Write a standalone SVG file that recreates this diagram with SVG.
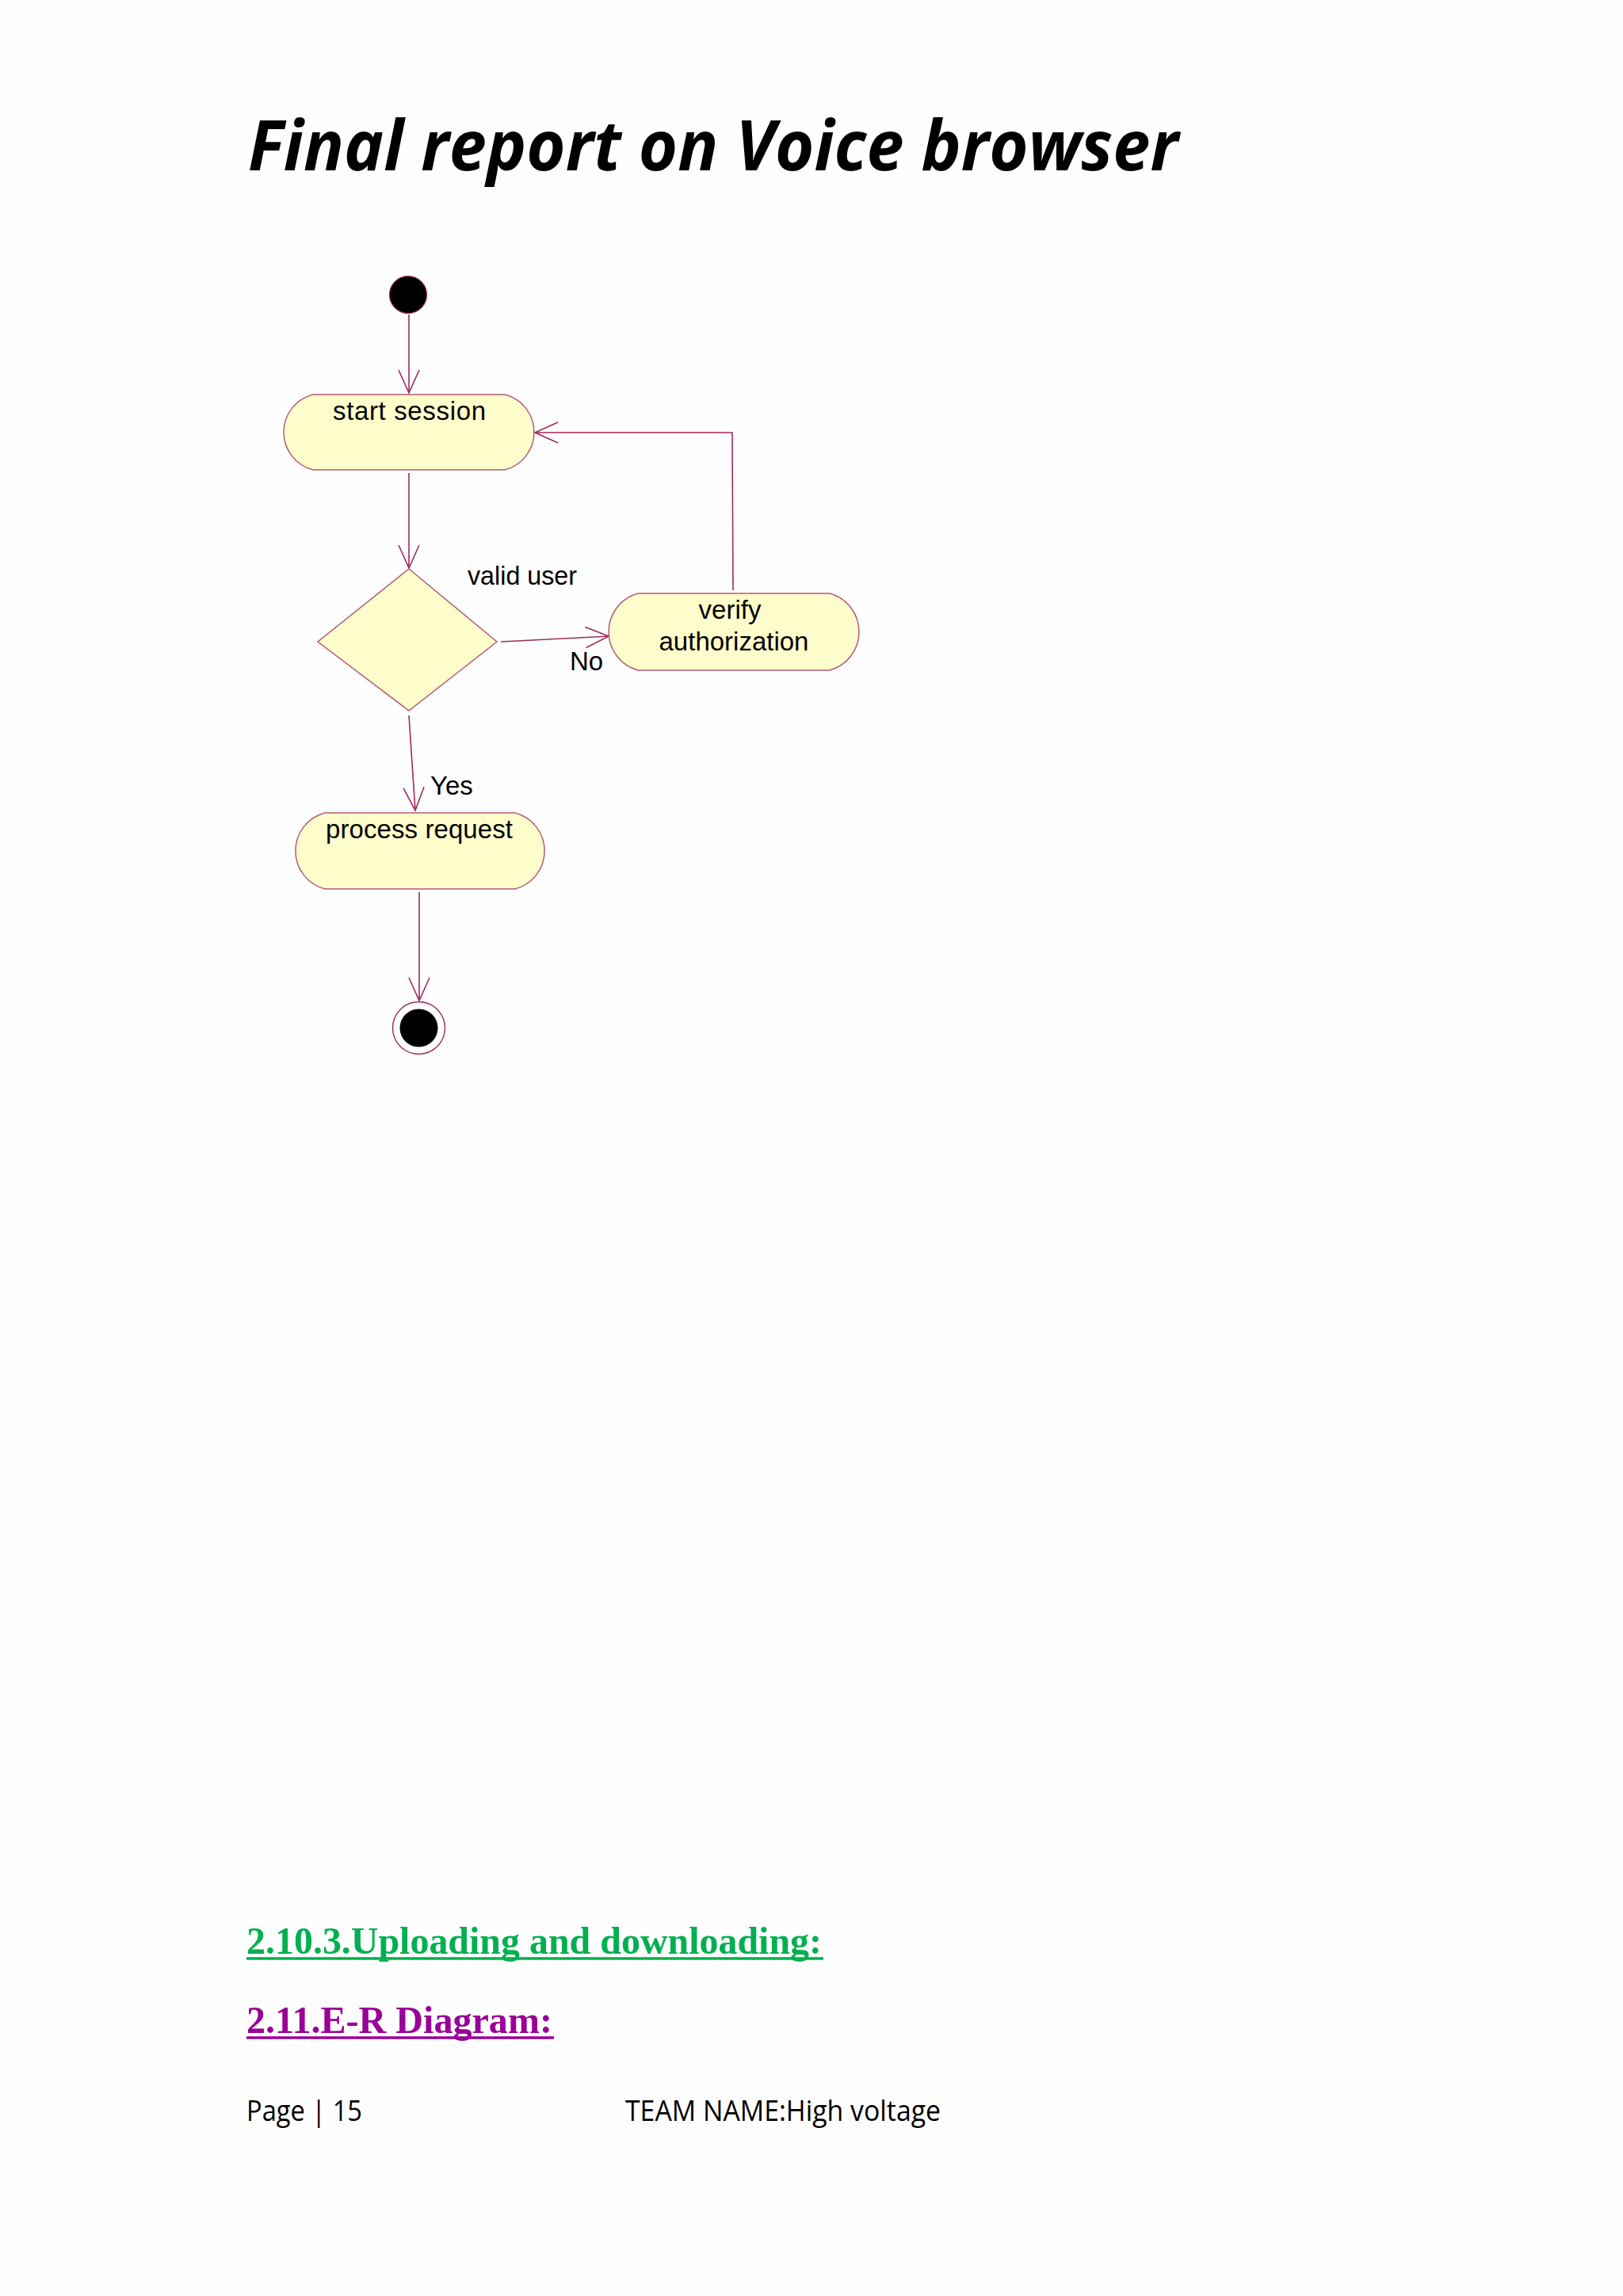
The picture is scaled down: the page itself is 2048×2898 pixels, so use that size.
<svg xmlns="http://www.w3.org/2000/svg" width="2048" height="2898" viewBox="0 0 2048 2898">
<style>
.node{fill:#FFFDCB;stroke:#B25B78;stroke-width:1.5}
.conn{fill:none;stroke:#9E2A5A;stroke-width:1.6}
.lbl{font-family:"Liberation Sans",Arial,sans-serif;font-size:33px;fill:#000}
.title{font-family:"Open Sans","Liberation Sans",sans-serif;font-size:88px;font-weight:700;font-style:italic;fill:#000}
.head{font-family:"Liberation Serif","Times New Roman",serif;font-size:49px;font-weight:700}
.foot{font-family:"Open Sans","Liberation Sans",sans-serif;font-size:37px;fill:#000}
</style>
<defs>
<marker id="arr" viewBox="-31 -15 33 30" refX="0" refY="0" markerWidth="33" markerHeight="30" markerUnits="userSpaceOnUse" orient="auto" overflow="visible">
<path d="M-29,-13 L0,0 L-29,13" fill="none" stroke="#9E2A5A" stroke-width="1.6"/>
</marker>
</defs>
<rect x="0" y="0" width="2048" height="2898" fill="#FEFEFE"/>

<text class="title" x="313" y="215" textLength="1174" lengthAdjust="spacingAndGlyphs">Final report on Voice browser</text>

<g id="connectors">
<path class="conn" d="M516,397 L516,496" marker-end="url(#arr)"/>
<path class="conn" d="M516,597 L516,717" marker-end="url(#arr)"/>
<path class="conn" d="M632,810 L768,803" marker-end="url(#arr)"/>
<path class="conn" d="M925,745 L924,546 L675,546" marker-end="url(#arr)"/>
<path class="conn" d="M516,903 L524,1023" marker-end="url(#arr)"/>
<path class="conn" d="M529,1126 L529,1263" marker-end="url(#arr)"/>
<text class="lbl" x="590" y="738" textLength="138" lengthAdjust="spacingAndGlyphs">valid user</text>
<text class="lbl" x="719" y="846">No</text>
<text class="lbl" x="543" y="1003">Yes</text>
</g>

<g id="start">
<circle cx="515" cy="372" r="23.5" fill="#000" stroke="#9E2A5A" stroke-width="1.2"/>
</g>

<g id="start-session">
<path class="node" d="M395,498 H637 A49,49 0 0 1 637,593 H395 A49,49 0 0 1 395,498 Z"/>
<text class="lbl" x="420" y="530" textLength="193" lengthAdjust="spacing">start session</text>
</g>

<g id="decision">
<polygon class="node" points="516,718 627,810 516,897 401,810"/>
</g>

<g id="verify-authorization">
<path class="node" d="M805,749 H1047 A50.3,50.3 0 0 1 1047,846 H805 A50.3,50.3 0 0 1 805,749 Z"/>
<text class="lbl" x="921" y="781" text-anchor="middle">verify</text>
<text class="lbl" x="926" y="821" text-anchor="middle">authorization</text>
</g>

<g id="process-request">
<path class="node" d="M410,1026 H650 A49.6,49.6 0 0 1 650,1122 H410 A49.6,49.6 0 0 1 410,1026 Z"/>
<text class="lbl" x="411" y="1058" textLength="236" lengthAdjust="spacing">process request</text>
</g>

<g id="end">
<circle cx="528.5" cy="1297.5" r="33" fill="#FFF" stroke="#9E2A5A" stroke-width="1.4"/>
<circle cx="528.5" cy="1297.5" r="24" fill="#000"/>
</g>

<text class="head" x="311" y="2466" fill="#00B050" textLength="726" lengthAdjust="spacingAndGlyphs">2.10.3.Uploading and downloading:</text>
<line x1="311" y1="2472" x2="1039" y2="2472" stroke="#00B050" stroke-width="3.5"/>
<text class="head" x="311" y="2566" fill="#990099" textLength="386" lengthAdjust="spacingAndGlyphs">2.11.E-R Diagram:</text>
<line x1="311" y1="2572" x2="699" y2="2572" stroke="#990099" stroke-width="3.5"/>

<text class="foot" x="311" y="2677" textLength="146" lengthAdjust="spacingAndGlyphs">Page | 15</text>
<text class="foot" x="789" y="2677" textLength="398" lengthAdjust="spacingAndGlyphs">TEAM NAME:High voltage</text>
</svg>
